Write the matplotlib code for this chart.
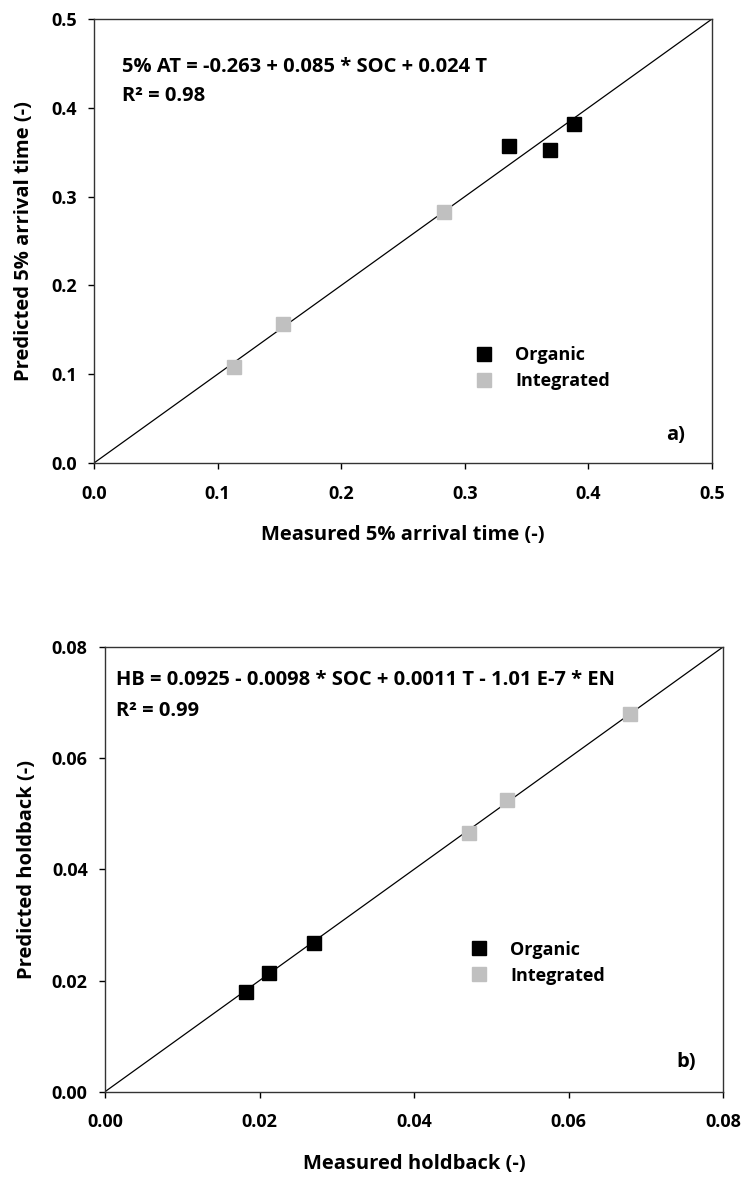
import matplotlib
matplotlib.use("Agg")
import matplotlib.pyplot as plt
from matplotlib.lines import Line2D

plt.rcParams['font.family'] = ['Open Sans', 'DejaVu Sans']
plt.rcParams['font.weight'] = 'bold'

# panel a) 5% arrival time
at_org_meas = [0.336, 0.369, 0.388]
at_org_pred = [0.357, 0.352, 0.382]
at_int_meas = [0.113, 0.153, 0.283]
at_int_pred = [0.108, 0.157, 0.283]

# panel b) holdback
hb_org_meas = [0.0182, 0.0212, 0.0271]
hb_org_pred = [0.0179, 0.0213, 0.0267]
hb_int_meas = [0.0471, 0.0521, 0.0680]
hb_int_pred = [0.0465, 0.0524, 0.0679]

grey = '#c0c0c0'
W, H = 744, 1178
fig = plt.figure(figsize=(W / 100, H / 100), dpi=100)


def panel(rect, om, op, im, ip, lim, ticks, fmt, xlab, ylab, eq, r2, tag, legxy, eqxy, ylx):
    ax = fig.add_axes(rect)
    ax.plot([0, lim], [0, lim], color='black', lw=0.9, zorder=1)
    ax.plot(om, op, 's', color='black', ms=10, ls='none', label='Organic', zorder=3)
    ax.plot(im, ip, 's', color=grey, ms=10, ls='none', label='Integrated', zorder=3)
    ax.set_xlim(0, lim)
    ax.set_ylim(0, lim)
    ax.set_xticks(ticks)
    ax.set_yticks(ticks)
    ax.set_xticklabels([fmt % t for t in ticks], fontweight='bold')
    ax.set_yticklabels([fmt % t for t in ticks], fontweight='bold')
    ax.tick_params(direction='out', length=4.5, width=1, labelsize=13, pad=8,
                   top=False, right=False)
    ax.tick_params(axis='x', pad=11)
    for s in ax.spines.values():
        s.set_linewidth(1)
        s.set_color('#333333')
    ax.set_xlabel(xlab, fontsize=14.5, fontweight='bold', va='center')
    ax.set_ylabel(ylab, fontsize=14.5, fontweight='bold', va='center')
    ax.xaxis.set_label_coords(0.5, -0.162)
    ax.yaxis.set_label_coords(ylx, 0.5)
    ax.text(eqxy[0], eqxy[1], eq, transform=ax.transAxes, fontsize=14.5,
            fontweight='bold', va='center', ha='left')
    ax.text(eqxy[0], eqxy[2], r2, transform=ax.transAxes, fontsize=14.5,
            fontweight='bold', va='center', ha='left')
    ax.text(0.956, tag[1], tag[0], transform=ax.transAxes, fontsize=14.5,
            fontweight='bold', va='center', ha='right')
    # legend
    handles = [Line2D([], [], marker='s', color='black', ls='none', ms=10),
               Line2D([], [], marker='s', color=grey, ls='none', ms=10)]
    ax.legend(handles, ['Organic', 'Integrated'], loc='center left',
              bbox_to_anchor=legxy, frameon=False, handlelength=0.8,
              handletextpad=1.3, labelspacing=0.45, borderpad=0, borderaxespad=0,
              prop={'size': 13, 'weight': 'bold'})
    return ax


panel([94 / W, 1 - 463 / H, 618 / W, 444 / H],
      at_org_meas, at_org_pred, at_int_meas, at_int_pred,
      0.5, [0.0, 0.1, 0.2, 0.3, 0.4, 0.5], '%.1f',
      'Measured 5% arrival time (-)', 'Predicted 5% arrival time (-)',
      '5% AT = -0.263 + 0.085 * SOC + 0.024 T', 'R² = 0.98',
      ('a)', 0.064), (0.62, 0.213), (0.046, 0.893, 0.827), -0.113)

panel([105 / W, 1 - 1091.7 / H, 618 / W, 444.7 / H],
      hb_org_meas, hb_org_pred, hb_int_meas, hb_int_pred,
      0.08, [0.0, 0.02, 0.04, 0.06, 0.08], '%.2f',
      'Measured holdback (-)', 'Predicted holdback (-)',
      'HB = 0.0925 - 0.0098 * SOC + 0.0011 T - 1.01 E-7 * EN', 'R² = 0.99',
      ('b)', 0.067), (0.594, 0.29), (0.017, 0.925, 0.855), -0.126)

fig.savefig('out.png', dpi=100)
